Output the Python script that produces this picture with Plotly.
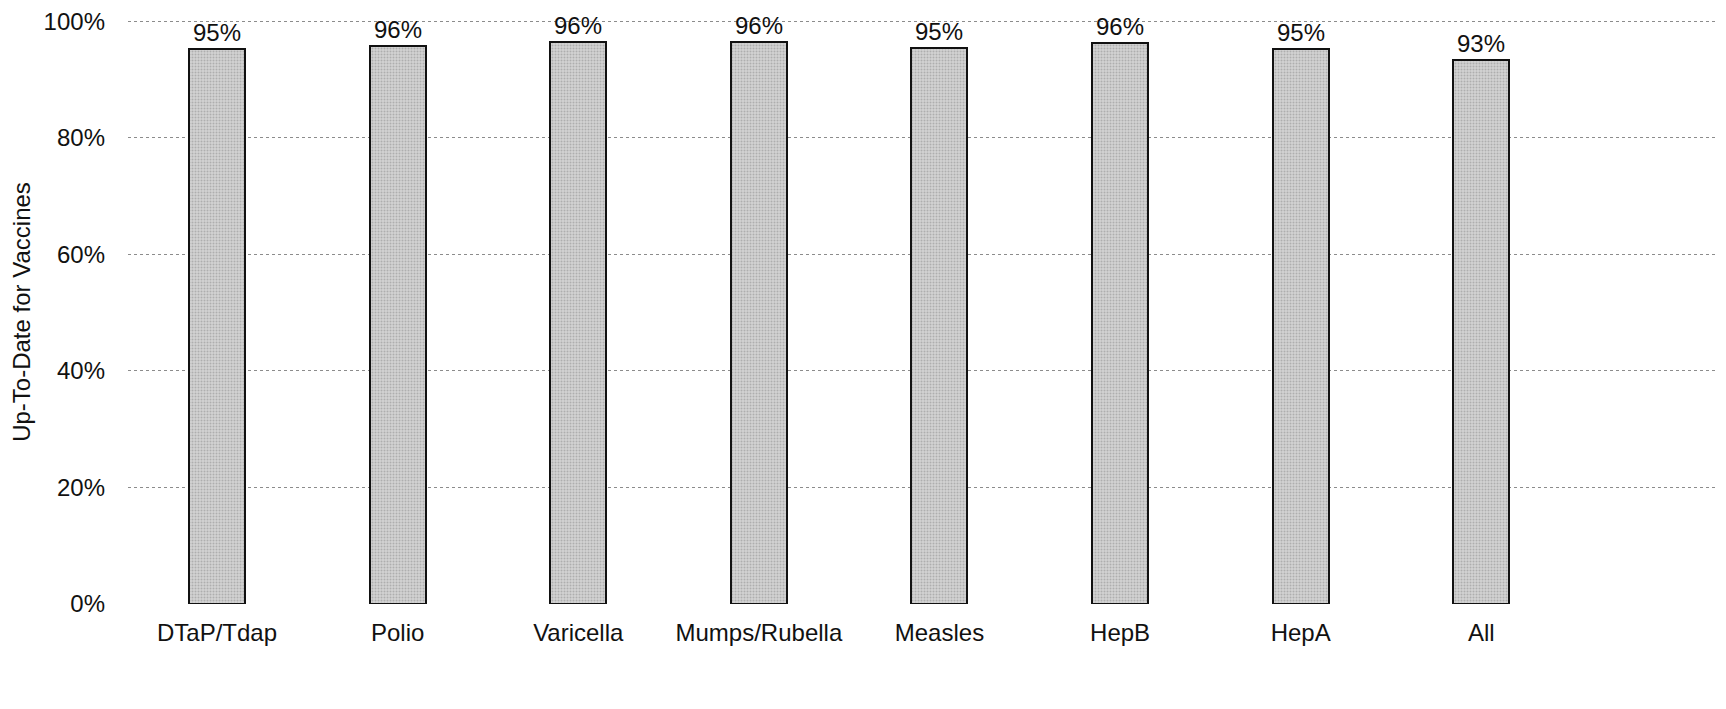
import plotly.graph_objects as go

categories = ["DTaP/Tdap", "Polio", "Varicella", "Mumps/Rubella", "Measles", "HepB", "HepA", "All"]
values = [0.953, 0.958, 0.964, 0.964, 0.954, 0.962, 0.953, 0.934]
y_ticks = [0, 0.2, 0.4, 0.6, 0.8, 1.0]

fig = go.Figure()
fig.add_trace(go.Bar(
    x=list(range(len(categories))),
    y=values,
    width=0.31,
    marker=dict(
        color="#c9c9c9",
        line=dict(color="#111111", width=2),
        pattern=dict(shape=".", fgcolor="#8a8a8a", bgcolor="#d2d2d2", size=3, solidity=0.35),
    ),
    texttemplate="%{y:.0%}",
    textposition="outside",
    textfont=dict(size=24, color="#111111", family="Liberation Sans, Arial, sans-serif"),
    cliponaxis=False,
))

# page body has an 8px margin, so the figure is sized/offset to compensate
fig.update_layout(
    width=1718, height=701,
    margin=dict(l=120, r=0, t=12, b=105, autoexpand=False),
    paper_bgcolor="white", plot_bgcolor="white",
    showlegend=False,
    font=dict(family="Liberation Sans, Arial, sans-serif", size=24, color="#111111"),
    bargap=0,
)
fig.update_xaxes(
    tickmode="array",
    tickvals=list(range(len(categories))),
    ticktext=categories,
    range=[-0.493, 8.355],
    showgrid=False, zeroline=False, showline=False,
    ticks="", ticklabelstandoff=12,
    tickfont=dict(size=24),
    automargin=False,
)
fig.update_yaxes(
    range=[0, 1.002],
    tickvals=y_ticks,
    tickformat=".0%",
    showgrid=True, gridcolor="#8c8c8c", gridwidth=1, griddash="dot",
    zeroline=False, showline=False, ticks="",
    ticklabelstandoff=22,
    ticklabeloverflow="allow",
    tickfont=dict(size=24),
    title=dict(text="Up-To-Date for Vaccines", font=dict(size=24), standoff=12),
    automargin=False,
)
fig.write_html("out.html")
